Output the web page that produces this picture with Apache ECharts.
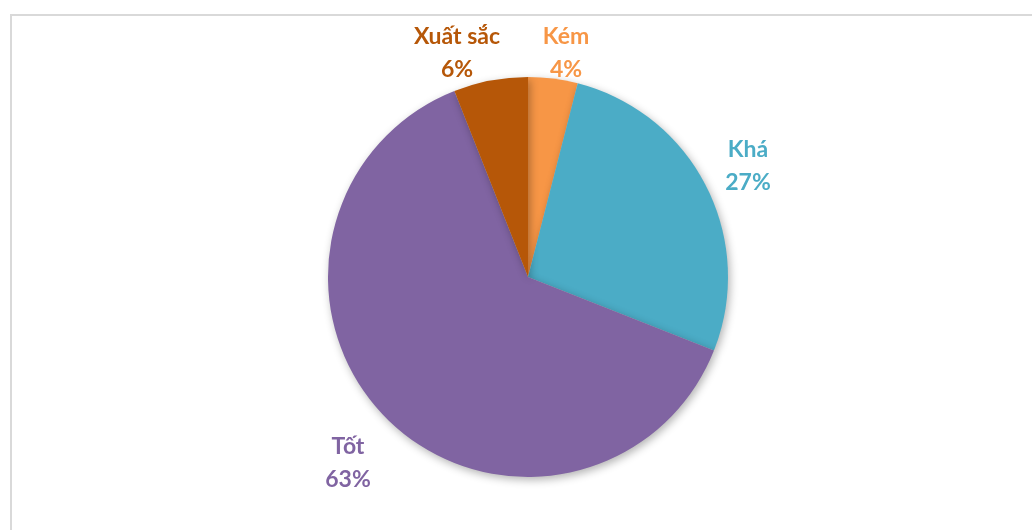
<!DOCTYPE html>
<html><head><meta charset="utf-8">
<script src="https://cdn.jsdelivr.net/npm/echarts@6/dist/echarts.min.js"></script>
<style>html,body{margin:0;padding:0;background:#fff}#c{width:1032px;height:530px}</style>
</head><body><div id="c"></div>
<script>
const categories = ['Kém', 'Khá', 'Tốt', 'Xuất sắc'];
const values = [4, 27, 63, 6];
const colors = ['#F79646', '#4BACC6', '#8064A2', '#B65708'];
const labelPos = [[566, 53], [748, 166], [348, 463], [457, 53]];

const chart = echarts.init(document.getElementById('c'));
chart.setOption({
  animation: false,
  graphic: [{
    type: 'rect', shape: {x: 11, y: 15, width: 1040, height: 540},
    style: {fill: 'none', stroke: '#d9d9d9', lineWidth: 2}, silent: true, z: -1
  }],
  series: [{
    type: 'pie',
    center: [528, 277],
    radius: 200,
    startAngle: 90,
    clockwise: true,
    data: categories.map((n, i) => ({name: n, value: values[i], itemStyle: {color: colors[i]},
      label: {color: colors[i]}})),
    itemStyle: {borderWidth: 0, shadowBlur: 8, shadowOffsetX: 2, shadowOffsetY: 3, shadowColor: 'rgba(0,0,0,0.3)'},
    label: {
      show: true, position: 'outside',
      formatter: p => p.name + '\n' + Math.round(p.percent) + '%',
      fontFamily: 'Lato', fontWeight: 'bold', fontSize: 23, lineHeight: 33, align: 'center'
    },
    labelLine: {show: false},
    labelLayout: p => ({x: labelPos[p.dataIndex][0], y: labelPos[p.dataIndex][1], align: 'center', verticalAlign: 'middle'})
  }]
});
</script></body></html>
